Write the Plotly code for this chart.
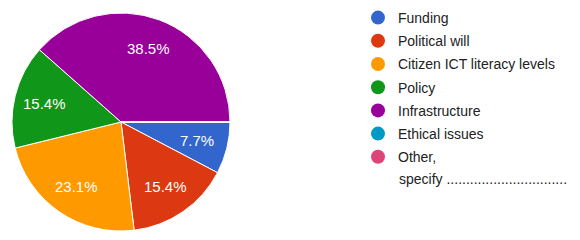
import math
import plotly.graph_objects as go

categories = ["Funding", "Political will", "Citizen ICT literacy levels", "Policy",
              "Infrastructure", "Ethical issues", "Other,<br>specify ..............................."]
counts = [1, 2, 3, 2, 5, 0, 0]
colors = ["#3366cc", "#dc3912", "#ff9900", "#109618", "#990099", "#0099c6", "#dd4477"]

# page has an 8px body margin, so the figure is sized to fill the rest of the window
OFF = 8
W, H = 580 - OFF, 240 - OFF
CX, CY, R = 121 - OFF, 122 - OFF, 109   # pie centre / radius in figure pixels
START = 90  # degrees clockwise from 12 o'clock
FONT = "Arial, Liberation Sans"

fig = go.Figure()
fig.add_trace(go.Pie(
    labels=categories, values=counts, sort=False, direction="clockwise", rotation=START,
    marker=dict(colors=colors, line=dict(color="white", width=1)),
    textinfo="none", showlegend=False,
    domain=dict(x=[(CX - R) / W, (CX + R) / W], y=[1 - (CY + R) / H, 1 - (CY - R) / H]),
    hoverinfo="label+percent",
))

total = sum(counts)
acc = 0
for v in counts:
    if v > 0:
        mid = math.radians(START + 360 * (acc + v / 2) / total)
        rl = 0.72 * R
        fig.add_annotation(
            x=(CX + rl * math.sin(mid)) / W, y=1 - (CY - rl * math.cos(mid)) / H,
            xref="paper", yref="paper", xanchor="center", yanchor="middle",
            showarrow=False,
            text=f"{100 * v / total:.1f}%",
            font=dict(color="white", size=15, family=FONT),
        )
    acc += v

# legend: first line of each label in the legend, continuation line placed beneath it
LEG_X, LEG_TOP, ROW = 350, -6, 23.2
for i, (name, c) in enumerate(zip(categories, colors)):
    parts = name.split("<br>")
    fig.add_trace(go.Scatter(x=[None], y=[None], mode="markers", name=parts[0],
                             legendgroup=f"g{i}",
                             marker=dict(color=c, size=14, symbol="circle"),
                             showlegend=True))
    for j, extra in enumerate(parts[1:], start=1):
        fig.add_annotation(
            x=(LEG_X + 39) / W, y=1 - (18 - OFF + (i + j) * ROW - 1) / H,
            xref="paper", yref="paper", xanchor="left", yanchor="middle",
            showarrow=False, text=extra,
            font=dict(size=14, color="#222222", family=FONT),
        )

fig.update_layout(
    width=W, height=H, margin=dict(l=0, r=0, t=0, b=0, autoexpand=False),
    paper_bgcolor="white", plot_bgcolor="white",
    xaxis=dict(visible=False), yaxis=dict(visible=False),
    legend=dict(x=LEG_X / W, y=1 - LEG_TOP / H, xanchor="left", yanchor="top",
                font=dict(size=14, color="#222222", family=FONT),
                itemwidth=30, tracegroupgap=2, bgcolor="rgba(0,0,0,0)",
                maxheight=400),
)
fig.write_html("out.html")
